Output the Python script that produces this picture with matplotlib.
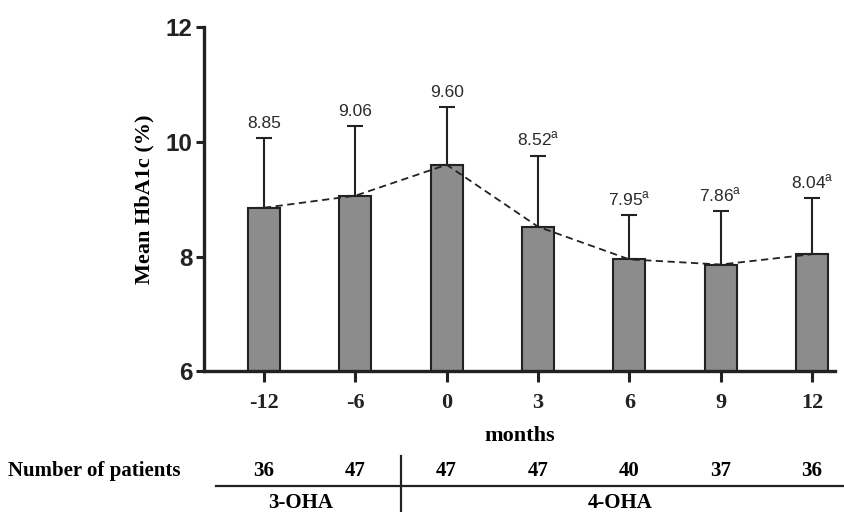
import matplotlib.pyplot as plt
import matplotlib.transforms as mtransforms

months = ["-12", "-6", "0", "3", "6", "9", "12"]
hba1c = [8.85, 9.06, 9.60, 8.52, 7.95, 7.86, 8.04]
sd = [1.22, 1.21, 1.01, 1.24, 0.77, 0.93, 0.98]
sig = ["", "", "", "a", "a", "a", "a"]
patients = [36, 47, 47, 47, 40, 37, 36]

serif = "Liberation Serif"
sans = "Liberation Sans"

fig = plt.figure(figsize=(8.45, 5.12), dpi=100)
ax = fig.add_axes([0.241, 0.275, 0.747, 0.672])

x = list(range(len(months)))
ax.bar(x, hba1c, width=0.35, color="#8c8c8c", edgecolor="#222222",
       linewidth=1.5, zorder=2)
ax.errorbar(x, hba1c, yerr=[[0] * len(sd), sd], fmt="none", ecolor="#222222",
            elinewidth=1.5, capsize=6, capthick=1.5, zorder=1)
ax.plot(x, hba1c, linestyle=(0, (4, 2.5)), color="#222222", linewidth=1.3, zorder=3)

# value labels above the error bars
for xi, v, s, m in zip(x, hba1c, sd, sig):
    label = f"{v:.2f}"
    if m:
        label += r"$^{\mathregular{" + m + "}}$"
    ax.text(xi, v + s + 0.12, label, ha="center", va="bottom",
            fontsize=12.5, family=sans, color="#2a2a2a")

ax.set_ylim(6, 12)
ax.set_xlim(-0.66, 6.25)
ax.set_yticks([6, 8, 10, 12])
ax.set_xticks(x)
ax.set_xticklabels(months, family=serif, fontweight="bold", fontsize=16)
for lbl in ax.get_yticklabels():
    lbl.set_family(sans)
    lbl.set_fontweight("bold")
    lbl.set_fontsize(17.5)
ax.tick_params(axis="y", length=6, width=2.2, pad=2, colors="#222222")
ax.tick_params(axis="x", length=8, width=2.2, pad=8, colors="#222222")

for side in ["top", "right"]:
    ax.spines[side].set_visible(False)
for side in ["left", "bottom"]:
    ax.spines[side].set_linewidth(2.4)
    ax.spines[side].set_color("#222222")

ax.set_xlabel("months", family=serif, fontweight="bold", fontsize=16, labelpad=9)
ax.set_ylabel("Mean HbA1c (%)", family=serif, fontweight="bold", fontsize=16, labelpad=8)

# patient count table below the axis
trans = mtransforms.blended_transform_factory(ax.transData, fig.transFigure)
fig.text(0.010, 0.080, "Number of patients", family=serif, fontweight="bold",
         fontsize=15, va="center", ha="left")
for xi, n in zip(x, patients):
    ax.text(xi, 0.080, str(n), transform=trans, ha="center", va="center",
            family=serif, fontweight="bold", fontsize=15)
ax.plot([-0.52, 6.5], [0.051, 0.051], transform=trans, color="#222222",
        linewidth=1.6, clip_on=False)
ax.plot([1.5, 1.5], [0.11, 0.0], transform=trans, color="#222222",
        linewidth=1.6, clip_on=False)
ax.text(0.4, 0.018, "3-OHA", transform=trans, ha="center", va="center",
        family=serif, fontweight="bold", fontsize=15)
ax.text(3.9, 0.018, "4-OHA", transform=trans, ha="center", va="center",
        family=serif, fontweight="bold", fontsize=15)

fig.savefig("out.png", dpi=100)
